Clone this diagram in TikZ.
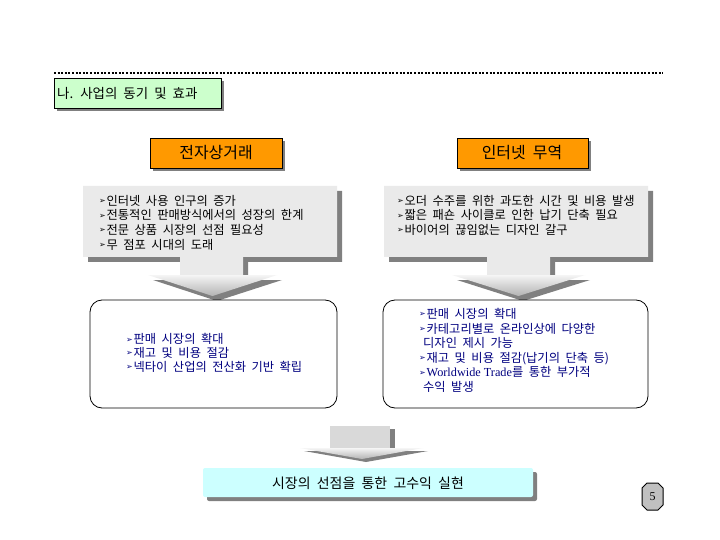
\documentclass[tikz,border=0pt]{standalone}
\usepackage{fontspec}
\setmainfont{Noto Sans CJK KR}[WordSpace=2]
\newfontfamily\dejavu{DejaVu Sans}
\newfontfamily\timesf{Liberation Serif}
\definecolor{orangebox}{HTML}{FF9900}
\definecolor{greenbox}{HTML}{CCFFCC}
\definecolor{cyanbox}{HTML}{CCFFFF}
\definecolor{shadowgray}{HTML}{808080}
\definecolor{boxgray}{HTML}{EAEAEA}
\definecolor{navytext}{HTML}{000080}
\definecolor{pagegray}{HTML}{C0C0C0}
\newcommand\bul{\raisebox{1.8bp}{\dejavu\fontsize{8}{8}\selectfont ➢}\hspace{0.8bp}}
\tikzset{
  shadowfill/.style={fill=shadowgray, draw=none},
  headbox/.style={fill=orangebox, draw=black, line width=0.8bp},
  headtext/.style={inner sep=0, font=\fontsize{16}{18}\selectfont},
  gtext/.style={inner sep=0, align=left, font=\fontsize{12.3}{14.7}\selectfont},
  rtext/.style={inner sep=0, align=left, text=navytext, font=\fontsize{12.3}{14.6}\selectfont},
  roundbox/.style={fill=white, draw=black, line width=0.8bp, rounded corners=12bp},
  headshade/.style={top color=gray!8, bottom color=gray!60, draw=none},
}
\begin{document}
\begin{tikzpicture}[x=1bp,y=-1bp]
\useasboundingbox[fill=white] (0,0) rectangle (720,540);

% dotted rule
\coordinate (ruleL) at (54,73);
\coordinate (ruleR) at (663,73);
\draw[line width=2bp, dash pattern=on 2bp off 1.6bp] (ruleL) -- (ruleR);

% title
\fill[shadowfill] (57,81) rectangle (224,111);
\draw[fill=greenbox, draw=black, line width=0.8bp] (54,78) rectangle (221,108);
\node[inner sep=0, anchor=west, font=\fontsize{13.5}{15}\selectfont] (title) at (57,93) {나. 사업의 동기 및 효과};

% orange headers
\fill[shadowfill] (153,141) rectangle (285,171);
\draw[headbox] (150,138) rectangle (282,168);
\node[headtext] (ec) at (216,153) {전자상거래};
\fill[shadowfill] (460,141) rectangle (591,171);
\draw[headbox] (457,138) rectangle (588,168);
\node[headtext] (it) at (522,153) {인터넷 무역};

% grey callout 1
\fill[shadowfill] (88,191) -- (342,191) -- (342,262) -- (248,262) -- (248,280) -- (282,280) -- (217,301) -- (153,280) -- (185,280) -- (185,262) -- (88,262) -- cycle;
\fill[boxgray] (83,186) -- (337,186) -- (337,257) -- (243,257) -- (243,275) -- (180,275) -- (180,257) -- (83,257) -- cycle;
\shade[headshade] (148,275) -- (277,275) -- (212.5,296) -- cycle;
\node[gtext, anchor=north west] (g1) at (99,195) {\bul 인터넷 사용 인구의 증가\\\bul 전통적인 판매방식에서의 성장의 한계\\\bul 전문 상품 시장의 선점 필요성\\\bul 무 점포 시대의 도래};

% grey callout 2
\fill[shadowfill] (389,191) -- (653,191) -- (653,262) -- (555,262) -- (555,280) -- (590,280) -- (523,301) -- (457,280) -- (492,280) -- (492,262) -- (389,262) -- cycle;
\fill[boxgray] (384,186) -- (648,186) -- (648,257) -- (550,257) -- (550,275) -- (487,275) -- (487,257) -- (384,257) -- cycle;
\shade[headshade] (452,275) -- (585,275) -- (518.5,296) -- cycle;
\node[gtext, anchor=north west] (g2) at (397,195) {\bul 오더 수주를 위한 과도한 시간 및 비용 발생\\\bul 짧은 패숀 사이클로 인한 납기 단축 필요\\\bul 바이어의 끊임없는 디자인 갈구};

% rounded result boxes
\draw[roundbox] (90,300) rectangle (337,408);
\node[rtext, anchor=west, font=\fontsize{12.3}{13.8}\selectfont] (r1) at (126,353) {\bul 판매 시장의 확대\\\bul 재고 및 비용 절감\\\bul 넥타이 산업의 전산화 기반 확립};
\draw[roundbox] (383,300) rectangle (648,408);
\node[rtext, anchor=west] (r2) at (419,350.5) {\bul 판매 시장의 확대\\\bul 카테고리별로 온라인상에 다양한\\\hspace*{4bp}디자인 제시 가능\\\bul 재고 및 비용 절감(납기의 단축 등)\\\bul {\timesf Worldwide Trade}를 통한 부가적\\\hspace*{4bp}수익 발생};

% bottom arrow
\fill[shadowfill] (335,429) rectangle (395,451);
\fill[gray!30] (330,426) rectangle (390,448);
\fill[shadowfill] (304,451) -- (428,451) -- (366,462) -- cycle;
\shade[headshade] (300,448) -- (423,448) -- (362,459) -- cycle;

% bottom box
\fill[shadowfill, rounded corners=2bp] (207,472) rectangle (537,501);
\fill[cyanbox, rounded corners=2bp] (203,468) rectangle (533,497);
\node[inner sep=0, font=\fontsize{14}{16}\selectfont] (result) at (368,483) {시장의 선점을 통한 고수익 실현};

% page number
\draw[fill=pagegray, draw=black, line width=1bp] (647,483) -- (658,483) -- (663,488) -- (663,505) -- (658,510) -- (647,510) -- (642,505) -- (642,488) -- cycle;
\node[inner sep=0, font=\timesf\fontsize{12}{12}\selectfont] (page) at (652.5,496.5) {5};
\end{tikzpicture}
\end{document}
